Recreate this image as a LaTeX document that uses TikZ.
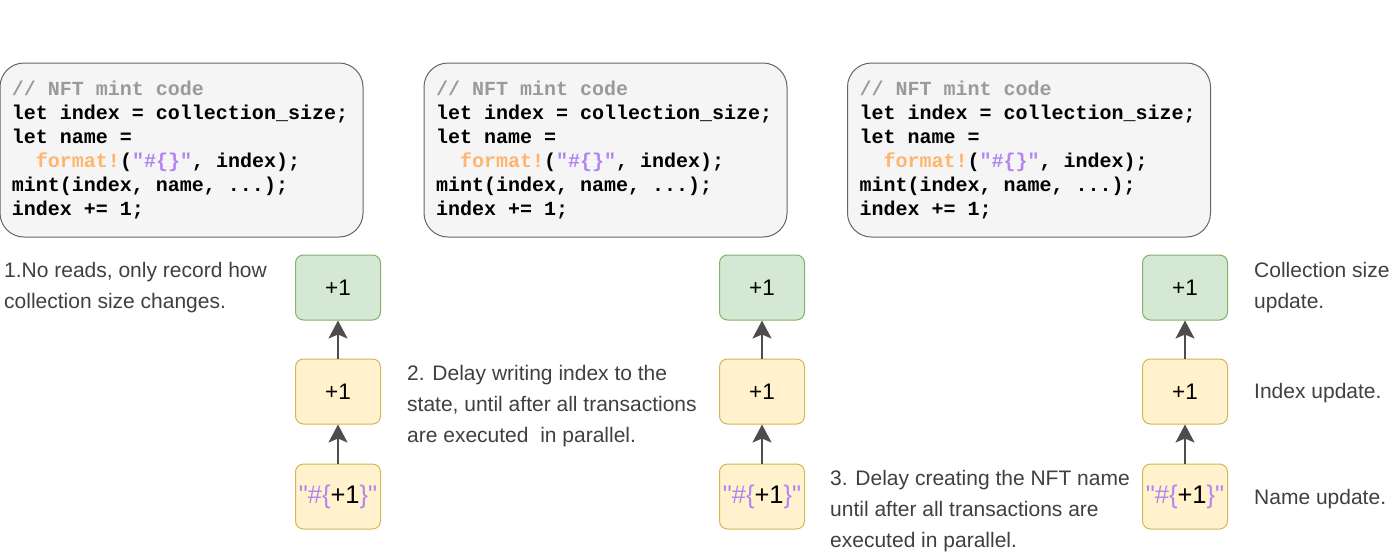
\documentclass[tikz,border=0pt]{standalone}
\usepackage{fontspec}
\setmainfont{Liberation Sans}
\setmonofont{Liberation Mono}
\usetikzlibrary{arrows.meta}
\definecolor{codebg}{HTML}{F5F5F5}
\definecolor{codeline}{HTML}{666666}
\definecolor{comment}{HTML}{9A9A9A}
\definecolor{macro}{HTML}{FFB570}
\definecolor{strcol}{HTML}{B385F2}
\definecolor{greenfill}{HTML}{D5E8D4}
\definecolor{greenline}{HTML}{82B366}
\definecolor{yellowfill}{HTML}{FFF2CC}
\definecolor{yellowline}{HTML}{D6B656}
\definecolor{note}{HTML}{404040}
\definecolor{arrowcol}{HTML}{4D4D4D}

% bold monospace
\newcommand\codefont{\ttfamily\bfseries\fontsize{20}{24}\selectfont}
% the mint snippet shown in every code panel (full-width spaces)
\newcommand\mintsnippet{%
\spaceskip=12pt plus 0pt minus 0pt\relax
{\color{comment}// NFT mint code}\\
let index = collection\_size;\\
let name =\\
\hspace*{24pt}{\color{macro}format!}({\color{strcol}"\#\{\}"}, index);\\
mint(index, name, ...);\\
index += 1;}
% the delayed name template
\newcommand\namestr{{\color{strcol}\textquotedbl\#\{}+1{\color{strcol}\}\textquotedbl}}

\begin{document}
\begin{tikzpicture}[x=1pt,y=-1pt,
  codebox/.style={draw=codeline, fill=codebg, line width=1pt, rounded corners=24pt,
    minimum width=363pt, minimum height=174pt, align=left, text width=339pt,
    inner sep=0pt, font=\codefont},
  stepbase/.style={line width=1pt, rounded corners=8pt, minimum width=85pt,
    minimum height=65pt, inner sep=0pt, font=\fontsize{22.5}{26}\selectfont},
  sizebox/.style={stepbase, draw=greenline, fill=greenfill},
  idxbox/.style={stepbase, draw=yellowline, fill=yellowfill},
  namebox/.style={idxbox, font=\fontsize{25.5}{30}\selectfont},
  notetext/.style={anchor=west, align=left, inner sep=0pt, text=note,
    font=\fontsize{21}{31}\selectfont},
  flow/.style={draw=arrowcol, line width=2pt,
    -{Stealth[length=18pt,width=19pt,inset=4pt]}}
]
\useasboundingbox[fill=white] (0,0) rectangle (1400,555);

% code panels
\node[codebox] (c1) at (181.5,150) {\mintsnippet};
\node[codebox] (c2) at (605.5,150) {\mintsnippet};
\node[codebox] (c3) at (1029,150) {\mintsnippet};

% update chains
\foreach \col/\x in {1/338, 2/762, 3/1185} {
  \node[sizebox] (s\col) at (\x,287.5) {+1};
  \node[idxbox] (i\col) at (\x,391.5) {+1};
  \node[namebox] (n\col) at (\x,496.5) {\namestr};
  \draw[flow] (i\col) -- (s\col);
  \draw[flow] (n\col) -- (i\col);
}

% notes
\node[notetext] (t1) at (4,287.5) {1.No reads, only record how\\collection size changes.};
\node[notetext] (t2) at (407,406) {2. Delay writing index to the\\state, until after all transactions\\are executed\ \ in parallel.};
\node[notetext] (t3) at (830,511) {3. Delay creating the NFT name\\until after all transactions are\\executed in parallel.};
\node[notetext] (t4) at (1254,287.5) {Collection size\\update.};
\node[notetext] (t5) at (1254,393) {Index update.};
\node[notetext] (t6) at (1254,499) {Name update.};
\end{tikzpicture}
\end{document}
